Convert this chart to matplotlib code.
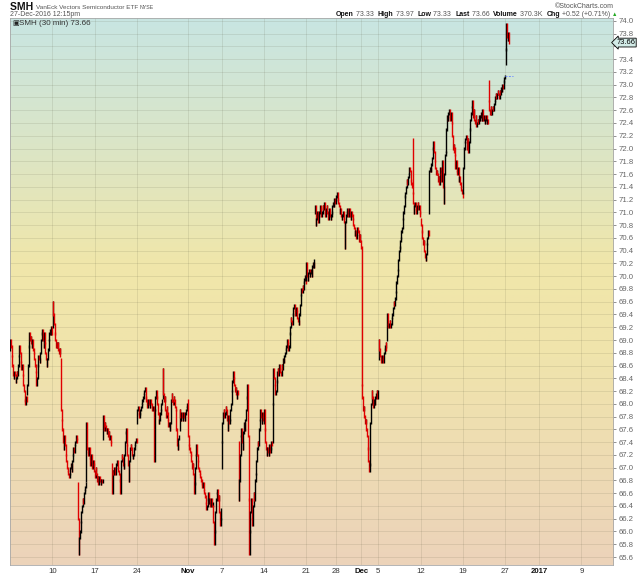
import numpy as np
import pandas as pd
import matplotlib
matplotlib.use("Agg")
import matplotlib.pyplot as plt
from matplotlib.collections import LineCollection
from matplotlib.colors import LinearSegmentedColormap
import matplotlib.transforms as mtransforms

plt.rcParams['font.family'] = ['Liberation Sans', 'DejaVu Sans']

# ---------------- data: each day = [open, close of each 30-min bar ...] ----------------
wk_oct03 = [
    [68.85, 69.0, 68.9, 68.75, 68.6, 68.45, 68.4, 68.5, 68.45, 68.35, 68.4, 68.5, 68.45, 68.6],
    [68.6, 68.75, 68.9, 68.8, 68.65, 68.55, 68.6, 68.45, 68.3, 68.2, 68.05, 68.0, 68.1, 68.05],
    [68.15, 68.3, 68.6, 68.9, 69.1, 69.0, 69.05, 68.95, 68.9, 69.0, 68.85, 68.8, 68.7, 68.6],
    [68.6, 68.5, 68.3, 68.4, 68.6, 68.75, 68.7, 68.65, 68.8, 69.0, 69.1, 69.15, 69.0, 68.9],
    [68.9, 69.1, 68.95, 68.8, 68.7, 68.6, 68.7, 68.85, 69.0, 69.1, 69.15, 69.1, 69.2, 69.1],
]
wk_oct10 = [
    [69.2, 69.6, 69.4, 69.25, 69.1, 69.0, 68.9, 68.95, 68.9, 68.95, 68.85, 68.8, 68.85, 68.75],
    [68.7, 67.9, 67.75, 67.6, 67.4, 67.3, 67.5, 67.35, 67.2, 67.1, 67.0, 66.95, 66.9, 66.85],
    [66.85, 66.9, 67.0, 67.05, 66.95, 67.1, 67.2, 67.3, 67.25, 67.35, 67.4, 67.5, 67.45, 67.4],
    [66.75, 66.2, 65.65, 65.9, 66.0, 66.15, 66.3, 66.4, 66.5, 66.45, 66.6, 66.65, 66.7, 66.75],
    [66.8, 67.7, 67.3, 67.25, 67.2, 67.3, 67.15, 67.05, 67.2, 67.1, 67.0, 67.1, 67.05, 66.95],
]
wk_oct17 = [
    [66.95, 66.85, 67.0, 66.9, 66.8, 66.85, 66.75, 66.8, 66.85, 66.8, 66.75, 66.8, 66.78, 66.8],
    [67.45, 67.8, 67.6, 67.7, 67.65, 67.6, 67.55, 67.6, 67.5, 67.55, 67.45, 67.5, 67.4, 67.35],
    [67.05, 66.6, 66.95, 66.9, 66.95, 67.0, 66.9, 67.0, 67.05, 67.1, 67.0, 66.95, 66.9, 66.8],
    [66.8, 66.6, 67.1, 67.2, 67.15, 67.05, 67.0, 67.2, 67.4, 67.55, 67.6, 67.35, 67.2, 67.05],
    [67.05, 66.8, 67.1, 67.3, 67.35, 67.3, 67.2, 67.15, 67.2, 67.3, 67.35, 67.4, 67.45, 67.4],
]
wk_oct24 = [
    [67.7, 67.9, 67.95, 67.85, 67.8, 67.85, 67.9, 67.95, 68.0, 68.05, 68.1, 68.15, 68.2, 68.25],
    [68.25, 68.1, 68.05, 67.95, 68.0, 68.05, 68.0, 67.95, 68.05, 68.0, 67.95, 67.9, 67.95, 67.9],
    [67.9, 67.1, 67.9, 68.1, 68.2, 68.1, 68.0, 67.85, 67.7, 67.75, 67.85, 67.9, 68.0, 68.05],
    [68.1, 68.55, 68.15, 68.05, 68.1, 67.9, 67.8, 67.95, 67.85, 67.75, 67.65, 67.7, 67.6, 67.7],
    [67.7, 68.05, 68.15, 68.05, 68.0, 68.1, 68.05, 67.95, 67.9, 67.6, 67.35, 67.3, 67.45, 67.5],
]
wk_oct31 = [
    [67.6, 67.9, 67.8, 67.75, 67.85, 67.8, 67.75, 67.85, 67.8, 67.75, 67.85, 67.9, 67.95, 68.0],
    [68.05, 67.5, 67.35, 67.3, 67.25, 67.2, 67.1, 67.0, 67.05, 66.9, 66.6, 66.75, 67.0, 67.2],
    [67.2, 67.35, 67.2, 67.1, 67.0, 66.95, 66.9, 66.85, 66.8, 66.75, 66.7, 66.75, 66.65, 66.6],
    [66.6, 66.55, 66.45, 66.35, 66.4, 66.5, 66.6, 66.45, 66.5, 66.4, 66.45, 66.5, 66.4, 66.45],
    [66.4, 66.15, 65.8, 66.0, 66.3, 66.5, 66.6, 66.65, 66.5, 66.55, 66.3, 66.1, 66.2, 66.35],
]
wk_nov07 = [
    [67.0, 67.4, 67.7, 67.85, 67.9, 67.8, 67.85, 67.95, 67.9, 67.75, 67.6, 67.8, 67.7, 67.75],
    [67.75, 67.9, 68.0, 68.2, 68.35, 68.5, 68.4, 68.3, 68.2, 68.25, 68.15, 68.1, 68.2, 68.15],
    [67.4, 66.5, 66.8, 67.2, 67.5, 67.6, 67.4, 67.3, 67.55, 67.7, 67.6, 67.75, 67.9, 68.1],
    [68.1, 68.3, 67.5, 66.5, 65.65, 66.0, 66.3, 66.5, 66.2, 66.1, 66.4, 66.6, 66.5, 66.8],
    [66.8, 66.9, 67.1, 67.3, 67.4, 67.35, 67.6, 67.75, 67.9, 67.8, 67.7, 67.85, 67.8, 67.75],
]
wk_nov14 = [
    [67.7, 67.9, 67.6, 67.4, 67.3, 67.2, 67.3, 67.25, 67.2, 67.35, 67.25, 67.3, 67.4, 67.35],
    [67.4, 68.0, 68.55, 68.4, 68.3, 68.15, 68.2, 68.35, 68.5, 68.55, 68.45, 68.6, 68.55, 68.5],
    [68.5, 68.45, 68.6, 68.55, 68.7, 68.65, 68.75, 68.8, 68.85, 68.9, 69.0, 68.95, 68.85, 68.9],
    [68.9, 69.1, 69.2, 69.35, 69.3, 69.25, 69.4, 69.5, 69.55, 69.45, 69.4, 69.5, 69.45, 69.35],
    [69.35, 69.3, 69.25, 69.4, 69.55, 69.7, 69.8, 69.75, 69.85, 69.8, 69.9, 69.95, 70.0, 69.9],
]
wk_nov21 = [
    [69.95, 70.2, 70.0, 69.95, 70.05, 70.1, 70.0, 70.05, 70.1, 70.0, 70.15, 70.2, 70.15, 70.25],
    [71.0, 71.1, 70.8, 70.9, 71.0, 70.95, 70.85, 70.95, 71.0, 71.1, 71.05, 70.95, 71.0, 71.1],
    [71.1, 71.05, 71.15, 71.0, 70.95, 71.05, 71.1, 71.0, 70.9, 71.0, 71.05, 70.95, 70.9, 70.95],
    [70.95, 71.0, 71.1, 71.15, 71.1, 71.2, 71.15, 71.2],
]
wk_nov28 = [
    [71.2, 71.25, 71.3, 71.2, 71.15, 71.1, 71.0, 71.05, 70.95, 70.9, 70.95, 71.0, 70.9, 70.85],
    [70.85, 70.45, 70.85, 70.95, 71.0, 71.05, 70.95, 71.0, 71.05, 70.95, 70.9, 71.0, 70.95, 70.9],
    [70.9, 70.8, 70.75, 70.65, 70.7, 70.6, 70.65, 70.75, 70.7, 70.6, 70.55, 70.65, 70.55, 70.45],
    [70.45, 68.3, 68.1, 67.9, 67.95, 67.8, 67.7, 67.75, 67.6, 67.5, 67.3, 67.1, 66.95, 67.05],
    [67.05, 67.7, 68.0, 68.2, 68.1, 68.0, 67.95, 68.05, 68.0, 68.1, 68.15, 68.2, 68.1, 68.2],
]
wk_dec05 = [
    [68.7, 69.0, 68.85, 68.75, 68.7, 68.65, 68.75, 68.7, 68.65, 68.8, 68.85, 68.9, 68.95, 68.85],
    [69.0, 69.4, 69.25, 69.2, 69.25, 69.3, 69.2, 69.25, 69.35, 69.4, 69.5, 69.6, 69.55, 69.65],
    [69.65, 69.75, 69.9, 70.0, 70.1, 70.25, 70.4, 70.45, 70.55, 70.6, 70.7, 70.75, 70.9, 71.0],
    [71.0, 71.1, 71.25, 71.3, 71.4, 71.5, 71.45, 71.55, 71.6, 71.7, 71.65, 71.5, 71.45, 71.4],
    [72.15, 71.3, 71.15, 71.0, 71.1, 71.15, 71.05, 71.0, 71.1, 71.15, 71.05, 71.1, 71.0, 70.95],
]
wk_dec12 = [
    [70.9, 70.8, 70.7, 70.6, 70.5, 70.55, 70.4, 70.3, 70.25, 70.35, 70.5, 70.6, 70.7, 70.65],
    [71.0, 71.65, 71.7, 71.65, 71.75, 71.85, 72.0, 72.1, 71.95, 71.8, 71.7, 71.6, 71.65, 71.6],
    [71.6, 71.5, 71.55, 71.45, 71.7, 71.6, 71.5, 71.65, 71.8, 71.4, 71.15, 71.6, 71.9, 71.95],
    [71.95, 72.3, 72.5, 72.45, 72.55, 72.6, 72.5, 72.45, 72.55, 72.4, 72.2, 72.0, 72.05, 71.95],
    [72.0, 71.9, 71.7, 71.8, 71.65, 71.6, 71.7, 71.5, 71.55, 71.45, 71.4, 71.35, 71.3, 71.25],
]
wk_dec19 = [
    [71.3, 71.7, 72.0, 72.1, 72.15, 72.2, 72.1, 72.0, 72.15, 71.95, 72.1, 72.3, 72.45, 72.55],
    [72.55, 72.65, 72.75, 72.5, 72.6, 72.45, 72.4, 72.5, 72.35, 72.4, 72.45, 72.4, 72.5, 72.45],
    [72.45, 72.5, 72.55, 72.45, 72.6, 72.5, 72.45, 72.5, 72.4, 72.45, 72.5, 72.4, 72.45, 72.4],
    [73.05, 72.75, 72.6, 72.55, 72.65, 72.55, 72.6, 72.65, 72.6, 72.7, 72.75, 72.8, 72.85, 72.8],
    [72.8, 72.85, 72.9, 72.85, 72.8, 72.9, 72.85, 72.95, 72.9, 73.0, 72.95, 73.05, 73.1, 73.14],
]
wk_dec27 = [
    [73.33, 73.55, 73.95, 73.75, 73.7, 73.8, 73.66],
]

prev_close = 73.14
last_price = 73.66

tick_dates = ["2016-10-10", "2016-10-17", "2016-10-24", "2016-11-01", "2016-11-07",
              "2016-11-14", "2016-11-21", "2016-11-28", "2016-12-01", "2016-12-05",
              "2016-12-12", "2016-12-19", "2016-12-27", "2017-01-02", "2017-01-09"]
tick_labels = ["10", "17", "24", "Nov", "7", "14", "21", "28", "Dec", "5",
               "12", "19", "27", "2017", "9"]
bold_labels = ["Nov", "Dec", "2017"]

holidays = ["2016-11-24", "2016-12-26"]
half_days = ["2016-11-25"]

# ---------------- build bar positions ----------------
weeks = [wk_oct03, wk_oct10, wk_oct17, wk_oct24, wk_oct31, wk_nov07, wk_nov14,
         wk_nov21, wk_nov28, wk_dec05, wk_dec12, wk_dec19, wk_dec27]
days = [d for w in weeks for d in w]

sessions = pd.bdate_range("2016-10-03", "2017-01-13", freq="C", holidays=holidays)
half = set(pd.to_datetime(half_days))
bars_per_day = np.array([7 if s in half else 13 for s in sessions])
day_start = np.concatenate([[0], np.cumsum(bars_per_day)[:-1]])
start_of = dict(zip(sessions, day_start))

BLACK = "#000000"
RED = "#e00000"
segs, cols = [], []
for k, vals in enumerate(days):
    s = day_start[k]
    for i in range(1, len(vals)):
        a, b = vals[i - 1], vals[i]
        x = s + (i - 1) + 0.5
        lo, hi = min(a, b) - 0.018, max(a, b) + 0.018
        segs.append([(x, lo), (x, hi)])
        cols.append(RED if b < a else BLACK)

# ---------------- figure ----------------
W, H = 640, 576
fig = plt.figure(figsize=(W / 100, H / 100), dpi=100)
fig.patch.set_facecolor("white")

L, R, T, B = 10, 613.3, 18, 565
ax = fig.add_axes([L / W, (H - B) / H, (R - L) / W, (B - T) / H])
ax.set_xlim(0, 927)
ax.set_ylim(65.475, 74.045)

# gradient background
cmap = LinearSegmentedColormap.from_list("bg", [
    (0.0, (200/255, 230/255, 226/255)),
    (0.22, (218/255, 229/255, 200/255)),
    (0.45, (240/255, 231/255, 170/255)),
    (0.62, (240/255, 228/255, 172/255)),
    (1.0, (236/255, 211/255, 186/255)),
])
grad = np.linspace(0, 1, 256).reshape(-1, 1)
ax.imshow(grad, cmap=cmap, aspect="auto", extent=[0, 1, 0, 1],
          transform=ax.transAxes, origin="upper", zorder=0)

# grid and ticks
yt = np.round(np.arange(65.6, 74.001, 0.2), 1)
ax.set_yticks(yt)
ax.set_yticklabels(["" if abs(v - 73.6) < 1e-6 else f"{v:.1f}" for v in yt])
xt = [start_of[pd.Timestamp(d)] for d in tick_dates]
ax.set_xticks(xt)
ax.set_xticklabels(tick_labels)
ax.grid(True, color="#5a5a40", alpha=0.13, lw=0.7, zorder=1)
ax.set_axisbelow(True)

ax.yaxis.tick_right()
ax.tick_params(axis="y", labelsize=5.6, colors="#666666", length=2, width=0.5, pad=2)
ax.tick_params(axis="x", labelsize=5.6, colors="#333333", length=0, pad=2.5)
for lbl in ax.get_xticklabels():
    if lbl.get_text() in bold_labels:
        lbl.set_fontweight("bold")
        lbl.set_color("#111111")
for sp in ax.spines.values():
    sp.set_color("#a8a8a8")
    sp.set_linewidth(0.6)

lc = LineCollection(segs, colors=cols, linewidths=1.0, zorder=3)
ax.add_collection(lc)

# previous close marker
xlast = start_of[pd.Timestamp("2016-12-27")]
ax.plot([xlast, xlast + 12], [prev_close, prev_close], color="#6f8cff",
        lw=0.7, ls=(0, (2, 1.5)), zorder=3)

# last price box
trans = mtransforms.blended_transform_factory(ax.transAxes, ax.transData)
ax.text(1.0 + 3.0 / (R - L), last_price, f"{last_price:.2f}", transform=trans,
        ha="left", va="center", fontsize=5.4, color="black", zorder=6,
        bbox=dict(boxstyle="larrow,pad=0.12", fc="#d2ebe7", ec="black", lw=0.6),
        clip_on=False)

# panel label
fig.text(12 / W, 1 - 23.5 / H, "\u25a3", fontsize=5, color="#222222", va="center", ha="left")
fig.text(19 / W, 1 - 23.5 / H, "SMH (30 min) 73.66", fontsize=5.8, color="#333333",
         va="center", ha="left")

fig.canvas.draw()
renderer = fig.canvas.get_renderer()


def run_text(x0, ypix, parts):
    xpos = x0
    for txt, size, wt, col in parts:
        t = fig.text(xpos / W, 1 - ypix / H, txt, fontsize=size, fontweight=wt,
                     color=col, va="center", ha="left")
        xpos += t.get_window_extent(renderer=renderer).width
    return xpos


# header row 1
run_text(10, 7.5, [("SMH ", 7.5, "bold", "#111111"),
                   ("VanEck Vectors Semiconductor ETF ", 4.6, "normal", "#555555"),
                   ("NYSE", 3.8, "normal", "#555555")])
fig.text(614 / W, 1 - 7 / H, "\u00a9StockCharts.com", fontsize=5.0, color="#555555",
         va="center", ha="right")
# header row 2
fig.text(10 / W, 1 - 15 / H, "27-Dec-2016 12:15pm", fontsize=5.0, color="#555555",
         va="center", ha="left")
sz = 5.0
run_text(336, 15, [("Open", sz, "bold", "#111111"), (" 73.33  ", sz, "normal", "#555555"),
                   ("High", sz, "bold", "#111111"), (" 73.97  ", sz, "normal", "#555555"),
                   ("Low", sz, "bold", "#111111"), (" 73.33  ", sz, "normal", "#555555"),
                   ("Last", sz, "bold", "#111111"), (" 73.66  ", sz, "normal", "#555555"),
                   ("Volume", sz, "bold", "#111111"), (" 370.3K  ", sz, "normal", "#555555"),
                   ("Chg", sz, "bold", "#111111"), (" +0.52 (+0.71%) ", sz, "normal", "#555555"),
                   ("\u25b2", 4.0, "normal", "#22aa22")])

fig.savefig("out.png", dpi=100, facecolor="white")
